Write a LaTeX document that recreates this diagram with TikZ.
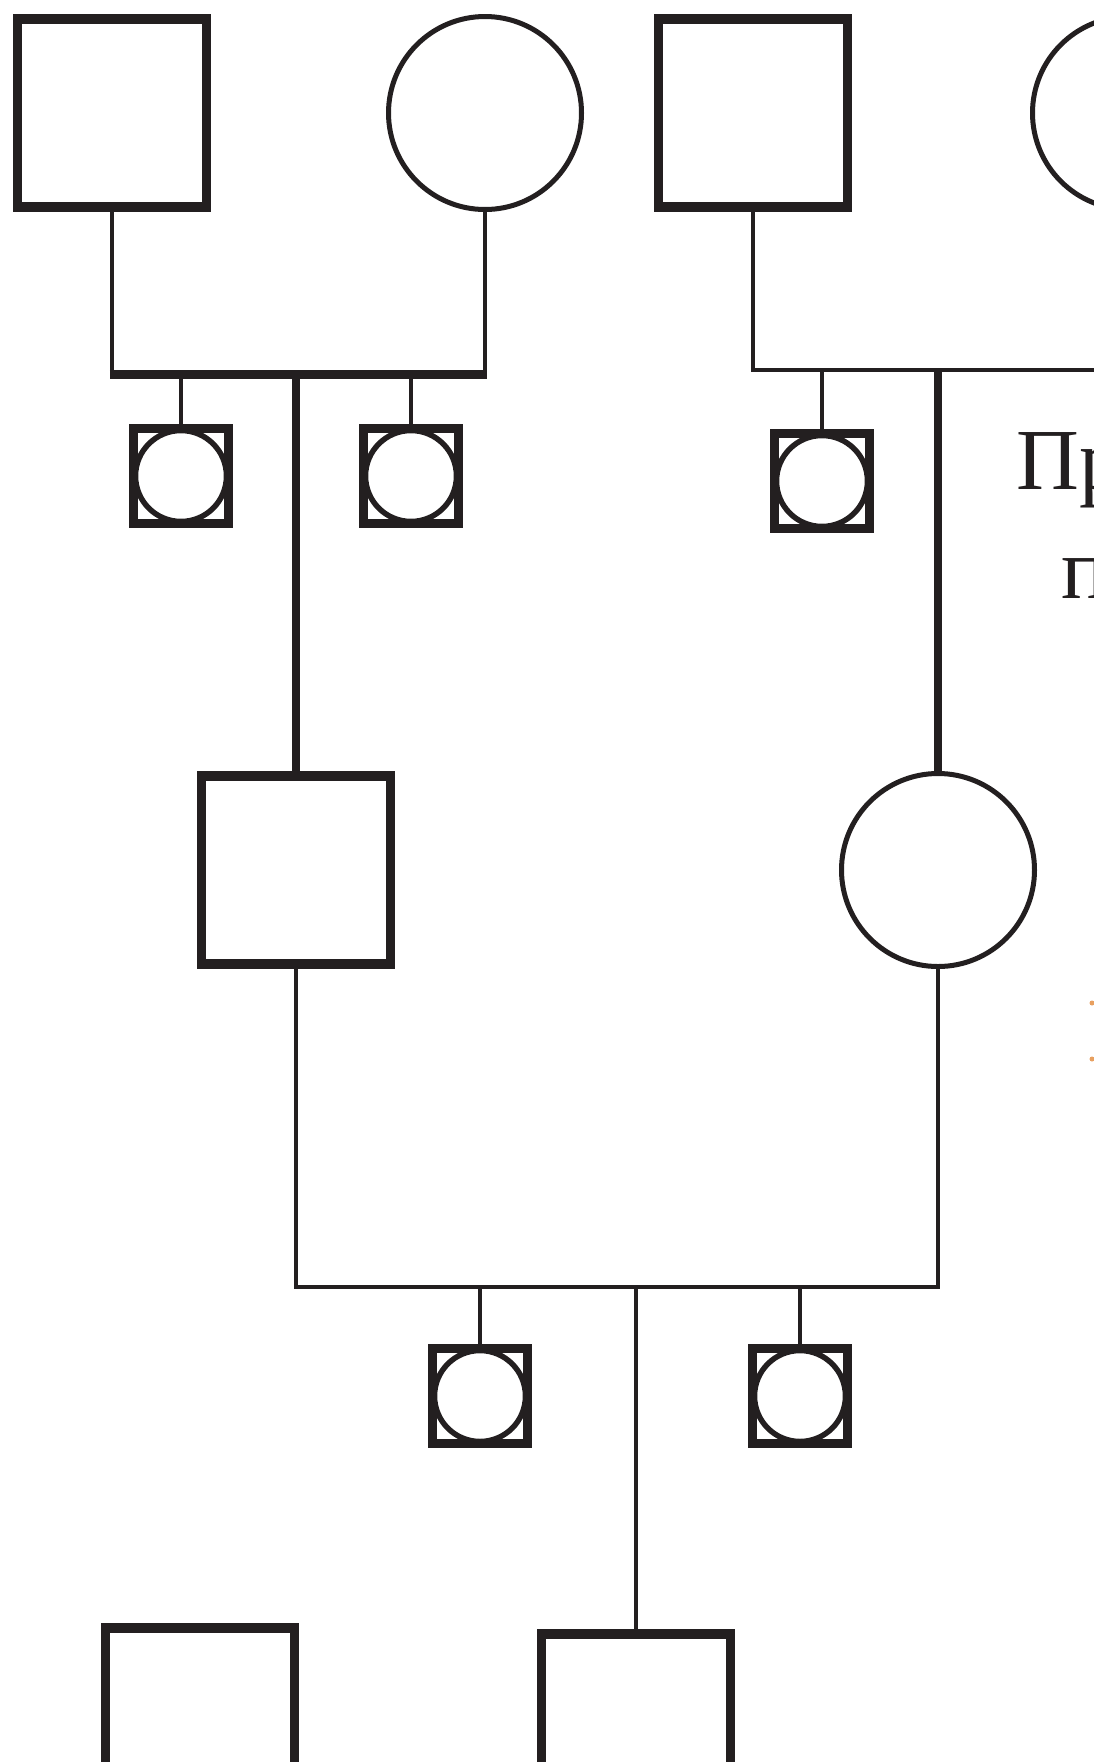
\documentclass[tikz,border=0pt]{standalone}
\usepackage{fontspec}
\setmainfont{Liberation Serif}
\definecolor{ink}{HTML}{231F20}
\definecolor{dotor}{HTML}{E8A060}
\tikzset{
  bigsq/.style={rectangle, draw=ink, line width=9.5pt, minimum width=189pt, minimum height=188pt, inner sep=0pt, outer sep=0pt},
  bigci/.style={circle, draw=ink, line width=5pt, minimum size=193pt, inner sep=0pt, outer sep=0pt},
  smallsq/.style={rectangle, draw=ink, line width=9pt, minimum size=95pt, inner sep=0pt, outer sep=0pt},
  smallci/.style={circle, draw=ink, line width=5.5pt, minimum size=91pt, inner sep=0pt, outer sep=0pt},
  pedthin/.style={draw=ink, line width=4.5pt, line join=miter},
  pedthick/.style={draw=ink, line width=9pt, shorten <=-2.2pt, shorten >=-2.2pt},
  pedtext/.style={anchor=base west, inner sep=0pt, text=ink, font=\fontsize{87}{104}\selectfont}
}
\begin{document}
\begin{tikzpicture}[x=1pt,y=-1pt]
\useasboundingbox (0,0) rectangle (1094,1762);
\clip (0,0) rectangle (1094,1762);
% generation I
\node[bigsq] (A) at (112,113) {};
\node[bigci] (B) at (485,113) {};
\node[bigsq] (D) at (753,113) {};
\node[bigci] (E) at (1129,113) {};
% generation II
\node[bigsq] (C) at (296,870) {};
\node[bigci] (F) at (938,870) {};
% generation III
\node[bigsq] (G) at (200,1722) {};
\node[bigsq] (H) at (636,1728) {};
% small symbols
\node[smallci] (s1i) at (181,476) {};
\node[smallsq] (s1) at (181,476) {};
\node[smallci] (s2i) at (411,476) {};
\node[smallsq] (s2) at (411,476) {};
\node[smallci] (s3i) at (822,481) {};
\node[smallsq] (s3) at (822,481) {};
\node[smallci] (s4i) at (480,1396) {};
\node[smallsq] (s4) at (480,1396) {};
\node[smallci] (s5i) at (800,1396) {};
\node[smallsq] (s5) at (800,1396) {};
% bar levels
\coordinate (bar1) at (0,374);
\coordinate (bar2) at (0,370);
\coordinate (bar3) at (0,1287);
% family 1
\draw[pedthin] (A.south) |- (bar1 -| B.south) -- (B.south);
\draw[pedthick] (bar1 -| A.south) -- (bar1 -| B.south);
\draw[pedthin] (bar1 -| s1.north) -- (s1.north);
\draw[pedthin] (bar1 -| s2.north) -- (s2.north);
\draw[draw=ink, line width=8.5pt] (bar1 -| C.north) -- (C.north);
% family 2
\draw[pedthin] (D.south) |- (bar2 -| E.south) -- (E.south);
\draw[pedthin] (bar2 -| s3.north) -- (s3.north);
\draw[draw=ink, line width=8.5pt] (bar2 -| F.north) -- (F.north);
% family 3
\draw[pedthin] (C.south) |- (bar3 -| F.south) -- (F.south);
\draw[pedthin] (bar3 -| s4.north) -- (s4.north);
\draw[pedthin] (bar3 -| s5.north) -- (s5.north);
\draw[pedthin] (bar3 -| H.north) -- (H.north);
% text fragments at right edge
\node[pedtext] (t1) at (1016,489) {Пр};
\node[pedtext] (t2) at (1061,598) {п};
% orange fragments
\fill[dotor] (1092,1003) circle (2.5);
\fill[dotor] (1092,1059) circle (2.5);
\end{tikzpicture}
\end{document}
